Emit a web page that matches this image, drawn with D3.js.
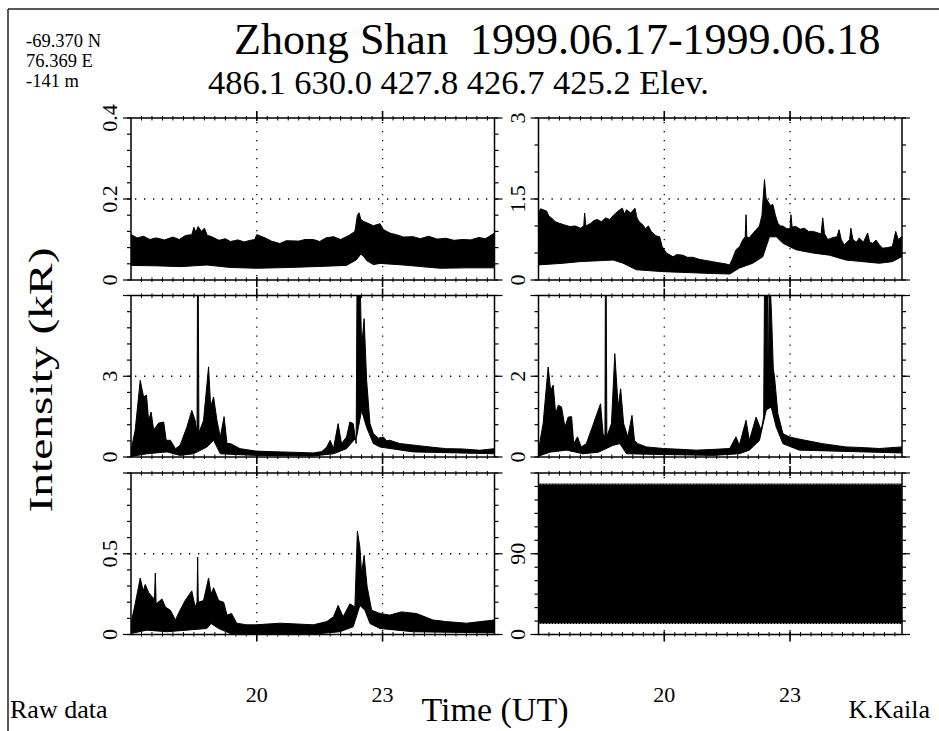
<!DOCTYPE html>
<html><head><meta charset="utf-8">
<script src="https://cdn.jsdelivr.net/npm/d3@7"></script>
<style>
html,body{margin:0;padding:0;background:#fff;}
text{font-family:"Liberation Serif","Times New Roman",Times,serif;}
</style></head><body>
<svg id="c" width="939" height="731"></svg>
<script>
// ---------------- data ----------------
const timeDomain = [17, 25.67];
const timeMajor = [20, 23];
const timeLabels = ["20", "23"];
const stationInfo = ["-69.370 N", "76.369 E", "-141 m"];
const titleParts = ["Zhong Shan", "1999.06.17-1999.06.18"];
const subtitleText = "486.1 630.0 427.8 426.7 425.2 Elev.";

const panelMax = [0.4, 3, 6, 4, 1, 180];
const panelMid = [0.2, 1.5, 3, 2, 0.5, 90];
const panelMinorStep = [0.04, 0.5, 0.6, 0.4, 0.1, 15];
const panelLabels = [["0","0.2","0.4"],["0","1.5","3"],["0","3"],["0","2"],["0","0.5"],["0","90"]];
const panelLabelValues = [[0,0.2,0.4],[0,1.5,3],[0,3],[0,2],[0,0.5],[0,90]];

// 486.1 nm (upper / lower envelope of the raw samples)
const hi4861 = [[17.0,0.112],[17.15,0.104],[17.3,0.108],[17.45,0.1],[17.6,0.104],[17.8,0.099],[18.0,0.106],[18.15,0.1],[18.3,0.11],[18.45,0.112],[18.5,0.13],[18.55,0.118],[18.6,0.132],[18.68,0.12],[18.75,0.128],[18.82,0.11],[18.9,0.108],[19.1,0.098],[19.25,0.102],[19.37,0.095],[19.55,0.099],[19.7,0.094],[19.85,0.098],[19.95,0.1],[20.0,0.112],[20.1,0.108],[20.2,0.104],[20.35,0.096],[20.55,0.09],[20.7,0.097],[21.0,0.096],[21.15,0.1],[21.35,0.1],[21.5,0.095],[21.65,0.104],[21.83,0.107],[22.0,0.1],[22.2,0.11],[22.34,0.12],[22.4,0.16],[22.44,0.166],[22.48,0.15],[22.54,0.145],[22.65,0.14],[22.78,0.134],[22.94,0.139],[23.02,0.125],[23.1,0.12],[23.2,0.115],[23.33,0.112],[23.5,0.106],[23.73,0.107],[23.9,0.102],[24.1,0.108],[24.3,0.101],[24.52,0.103],[24.7,0.098],[24.92,0.1],[25.1,0.099],[25.3,0.105],[25.45,0.102],[25.55,0.108],[25.67,0.116]];
const lo4861 = [[17.0,0.036],[17.6,0.035],[18.17,0.033],[18.81,0.037],[19.37,0.031],[20.0,0.029],[20.8,0.031],[21.35,0.033],[22.14,0.036],[22.38,0.05],[22.48,0.064],[22.55,0.058],[22.62,0.048],[22.78,0.038],[22.94,0.041],[23.5,0.037],[24.37,0.029],[25.0,0.03],[25.67,0.03]];

// 630.0 nm
const hi6300 = [[17.0,1.24],[17.05,1.32],[17.11,1.3],[17.19,1.28],[17.25,1.18],[17.31,1.15],[17.4,1.08],[17.5,1.05],[17.62,1.02],[17.75,0.99],[17.88,1.0],[18.0,0.96],[18.08,1.0],[18.1,1.24],[18.13,1.0],[18.25,1.05],[18.32,1.1],[18.4,1.12],[18.5,1.08],[18.6,1.15],[18.7,1.12],[18.8,1.21],[18.94,1.3],[19.0,1.33],[19.05,1.22],[19.1,1.3],[19.2,1.24],[19.3,1.33],[19.35,1.15],[19.4,1.08],[19.49,1.02],[19.55,0.95],[19.62,1.0],[19.69,0.9],[19.8,0.82],[19.89,0.8],[19.95,0.62],[20.05,0.5],[20.21,0.43],[20.3,0.47],[20.44,0.46],[20.55,0.42],[20.68,0.42],[20.85,0.38],[21.0,0.36],[21.15,0.34],[21.29,0.32],[21.45,0.3],[21.56,0.28],[21.63,0.4],[21.71,0.56],[21.8,0.62],[21.87,0.74],[21.93,0.8],[21.95,1.21],[21.97,0.8],[22.02,0.78],[22.1,0.85],[22.19,0.93],[22.27,1.0],[22.33,1.2],[22.39,1.86],[22.43,1.5],[22.47,1.46],[22.53,1.38],[22.59,1.4],[22.65,1.2],[22.71,1.05],[22.77,1.0],[22.83,1.0],[22.92,0.95],[23.0,0.95],[23.02,1.21],[23.05,0.98],[23.14,0.99],[23.24,0.94],[23.34,0.96],[23.44,0.9],[23.54,0.9],[23.64,0.88],[23.74,0.85],[23.78,1.15],[23.82,0.86],[23.9,0.75],[24.0,0.78],[24.12,0.8],[24.17,0.93],[24.22,0.75],[24.29,0.65],[24.36,0.7],[24.42,0.75],[24.45,0.96],[24.5,0.75],[24.58,0.7],[24.65,0.78],[24.75,0.7],[24.85,0.87],[24.9,0.7],[24.97,0.68],[25.05,0.74],[25.13,0.65],[25.21,0.59],[25.33,0.6],[25.44,0.62],[25.52,0.9],[25.58,0.75],[25.66,0.8]];
const lo6300 = [[17.0,0.28],[17.59,0.31],[17.98,0.34],[18.78,0.37],[19.02,0.31],[19.33,0.19],[19.97,0.155],[21.16,0.12],[21.56,0.11],[21.79,0.22],[22.11,0.31],[22.35,0.43],[22.51,0.8],[22.67,0.8],[22.83,0.68],[23.14,0.56],[23.54,0.5],[23.94,0.46],[24.33,0.37],[25.13,0.31],[25.44,0.34],[25.66,0.43]];

// 427.8 nm
const hi4278 = [[17.0,0.25],[17.1,1.0],[17.22,2.85],[17.3,2.23],[17.37,2.3],[17.42,1.36],[17.48,1.67],[17.54,1.0],[17.66,1.26],[17.78,1.3],[17.84,0.62],[17.94,0.62],[18.06,0.31],[18.17,0.43],[18.33,1.1],[18.45,1.73],[18.53,1.36],[18.575,0.9],[18.585,6.2],[18.605,6.2],[18.62,0.9],[18.73,1.36],[18.85,3.35],[18.9,1.86],[18.97,2.23],[19.05,1.36],[19.13,0.74],[19.22,1.5],[19.29,0.5],[19.37,0.5],[19.6,0.31],[19.98,0.22],[20.3,0.2],[20.56,0.19],[21.0,0.17],[21.35,0.15],[21.55,0.2],[21.67,0.37],[21.75,0.62],[21.83,0.31],[21.94,1.24],[22.02,0.5],[22.14,0.74],[22.22,1.3],[22.3,1.24],[22.37,0.5],[22.39,6.2],[22.47,6.2],[22.5,4.09],[22.56,5.14],[22.62,2.85],[22.7,1.24],[22.78,0.87],[22.9,0.7],[23.02,0.74],[23.1,0.6],[23.17,0.62],[23.41,0.5],[23.81,0.43],[24.2,0.36],[24.52,0.31],[24.9,0.3],[25.32,0.25],[25.67,0.31]];
const lo4278 = [[17.0,0.02],[17.38,0.12],[17.86,0.19],[18.17,0.06],[18.49,0.12],[18.81,0.37],[18.97,0.62],[19.13,0.12],[19.37,0.1],[19.98,0.06],[21.35,0.04],[21.83,0.12],[22.14,0.31],[22.38,0.74],[22.5,1.73],[22.62,1.1],[22.78,0.5],[22.94,0.37],[23.73,0.19],[25.67,0.12]];

// 426.7 nm
const hi4267 = [[17.0,0.17],[17.11,0.83],[17.23,2.23],[17.29,1.65],[17.35,1.78],[17.41,1.07],[17.47,1.28],[17.55,1.24],[17.63,0.74],[17.71,0.99],[17.79,1.0],[17.84,0.33],[17.93,0.5],[18.02,0.25],[18.14,0.33],[18.3,0.79],[18.38,1.03],[18.48,1.32],[18.54,0.58],[18.585,0.5],[18.595,4.2],[18.615,4.2],[18.63,0.5],[18.74,0.83],[18.82,2.56],[18.9,1.24],[18.96,1.69],[19.03,0.83],[19.13,0.5],[19.23,1.03],[19.29,0.41],[19.37,0.33],[19.57,0.25],[19.98,0.21],[20.4,0.19],[20.76,0.17],[21.2,0.19],[21.56,0.21],[21.71,0.5],[21.79,0.29],[21.95,0.91],[22.03,0.41],[22.19,0.99],[22.31,0.66],[22.37,0.99],[22.39,4.2],[22.46,4.2],[22.48,1.5],[22.5,4.2],[22.53,4.2],[22.56,3.47],[22.6,2.2],[22.63,1.98],[22.71,1.07],[22.83,0.58],[22.98,0.5],[23.14,0.46],[23.38,0.41],[23.78,0.33],[24.33,0.25],[24.8,0.23],[25.13,0.21],[25.67,0.25]];
const lo4267 = [[17.0,0.02],[17.27,0.12],[17.67,0.17],[18.06,0.08],[18.43,0.12],[18.78,0.29],[18.94,0.33],[19.1,0.08],[19.57,0.07],[21.16,0.04],[21.79,0.08],[22.03,0.17],[22.27,0.41],[22.43,1.16],[22.55,1.24],[22.67,0.74],[22.83,0.33],[23.22,0.17],[25.67,0.1]];

// 425.2 nm
const hi4252 = [[17.0,0.07],[17.1,0.19],[17.22,0.35],[17.29,0.27],[17.34,0.31],[17.42,0.26],[17.48,0.24],[17.56,0.22],[17.58,0.38],[17.6,0.19],[17.74,0.22],[17.82,0.17],[17.94,0.15],[18.06,0.09],[18.13,0.13],[18.29,0.21],[18.45,0.27],[18.53,0.17],[18.575,0.2],[18.59,0.48],[18.605,0.2],[18.73,0.21],[18.85,0.35],[18.91,0.25],[18.97,0.29],[19.09,0.21],[19.21,0.2],[19.29,0.12],[19.4,0.13],[19.52,0.07],[19.76,0.06],[19.98,0.06],[20.56,0.07],[21.35,0.06],[21.67,0.08],[21.83,0.11],[21.94,0.18],[22.06,0.11],[22.22,0.19],[22.34,0.17],[22.4,0.64],[22.46,0.54],[22.5,0.38],[22.56,0.49],[22.63,0.3],[22.74,0.15],[22.94,0.13],[23.17,0.12],[23.45,0.14],[23.81,0.13],[24.2,0.09],[24.52,0.08],[25.0,0.07],[25.67,0.09]];
const lo4252 = [[17.0,0.006],[17.38,0.027],[17.86,0.017],[18.33,0.027],[18.81,0.037],[18.91,0.068],[19.09,0.037],[19.37,0.006],[19.98,0.002],[21.35,0.002],[21.98,0.017],[22.3,0.048],[22.46,0.18],[22.58,0.15],[22.7,0.068],[22.94,0.037],[23.73,0.017],[25.67,0.01]];

// Elevation scan (deg)
const elevHi = [[17.0,167.7],[25.67,167.7]];
const elevLo = [[17.0,12.3],[25.67,12.3]];

const seriesHi = [hi4861, hi6300, hi4278, hi4267, hi4252, elevHi];
const seriesLo = [lo4861, lo6300, lo4278, lo4267, lo4252, elevLo];

// ---------------- layout ----------------
const colX = [[131, 494.5], [538.5, 902]];
const rowY = [[118, 280], [295.5, 457], [473, 634.5]];
const FONT = '"Liberation Serif","Times New Roman",Times,serif';

const svg = d3.select("#c");
function txt(sel) { return sel.append("text").style("font-family", FONT).attr("fill", "#000"); }

// outer frame (top & left lines)
svg.append("line").attr("x1",8).attr("y1",9).attr("x2",939).attr("y2",9).attr("stroke","#222").attr("stroke-width",1.5);
svg.append("line").attr("x1",8).attr("y1",9).attr("x2",8).attr("y2",731).attr("stroke","#222").attr("stroke-width",1.5);

// header texts
const title = txt(svg).attr("x",234).attr("y",54).attr("font-size",44);
title.append("tspan").text(titleParts[0]);
title.append("tspan").attr("dx", 22).text(titleParts[1]);
txt(svg).attr("x",208).attr("y",94).attr("font-size",34.5).text(subtitleText);
stationInfo.forEach((s,i)=>{
  txt(svg).attr("x",26).attr("y",47+i*20).attr("font-size",18.5).text(s);
});

const lineGen = d3.line();

for (let i = 0; i < 6; i++) {
  const col = i % 2, row = Math.floor(i / 2);
  const [x0, x1] = colX[col], [y0, y1] = rowY[row];
  const x = d3.scaleLinear().domain(timeDomain).range([x0, x1]);
  const y = d3.scaleLinear().domain([0, panelMax[i]]).range([y1, y0]);
  const g = svg.append("g");

  const clipId = "clip" + i;
  svg.append("clipPath").attr("id", clipId).append("rect")
    .attr("x", x0).attr("y", y0).attr("width", x1 - x0).attr("height", y1 - y0);

  // dotted grid
  const grid = g.append("g").attr("stroke","#000").attr("stroke-width",1.3).attr("stroke-dasharray","1.3,7.7");
  timeMajor.forEach(t => grid.append("line").attr("x1",x(t)).attr("x2",x(t)).attr("y1",y0+4).attr("y2",y1));
  grid.append("line").attr("x1",x0+4).attr("x2",x1).attr("y1",y(panelMid[i])).attr("y2",y(panelMid[i]));

  // data band
  const hi = seriesHi[i], lo = seriesLo[i];
  const pts = hi.map(d => [x(d[0]), y(d[1])]).concat(lo.slice().reverse().map(d => [x(d[0]), y(d[1])]));
  g.append("path").attr("clip-path", `url(#${clipId})`)
    .attr("d", lineGen(pts) + "Z")
    .attr("fill", "#000").attr("stroke", "#000").attr("stroke-width", 1).attr("stroke-linejoin","round");
  if (i === 5) {
    const edge = g.append("g").attr("stroke","#fff").attr("stroke-width",1).attr("stroke-dasharray","1,2");
    [hi, lo].forEach(s => edge.append("path").attr("fill","none").attr("d", lineGen(s.map(d=>[x(d[0]), y(d[1])]))));
  }

  // frame
  g.append("rect").attr("x",x0).attr("y",y0).attr("width",x1-x0).attr("height",y1-y0)
    .attr("fill","none").attr("stroke","#000").attr("stroke-width",1.5);

  // y ticks (left & right), minor and major
  const nMinor = Math.round(panelMax[i] / panelMinorStep[i]);
  const minorVals = d3.range(0, nMinor + 1).map(k => k * panelMinorStep[i]);
  const majorVals = [0, panelMid[i], panelMax[i]];
  const ticks = g.append("g").attr("stroke","#000").attr("stroke-width",1.2);
  minorVals.forEach(v => {
    ticks.append("line").attr("x1",x0-4).attr("x2",x0).attr("y1",y(v)).attr("y2",y(v));
    ticks.append("line").attr("x1",x1).attr("x2",x1+4).attr("y1",y(v)).attr("y2",y(v));
  });
  majorVals.forEach(v => {
    ticks.append("line").attr("x1",x0-8).attr("x2",x0).attr("y1",y(v)).attr("y2",y(v));
    ticks.append("line").attr("x1",x1).attr("x2",x1+8).attr("y1",y(v)).attr("y2",y(v));
  });
  // x ticks
  const tMinor = d3.range(69, 103).map(k => k / 4);
  tMinor.forEach(t => {
    ticks.append("line").attr("x1",x(t)).attr("x2",x(t)).attr("y1",y0-2).attr("y2",y0+2.5).attr("stroke-width",1);
    ticks.append("line").attr("x1",x(t)).attr("x2",x(t)).attr("y1",y1-2.5).attr("y2",y1+2).attr("stroke-width",1);
  });
  timeMajor.forEach(t => {
    ticks.append("line").attr("x1",x(t)).attr("x2",x(t)).attr("y1",y0-7).attr("y2",y0+3).attr("stroke-width",1.6);
    ticks.append("line").attr("x1",x(t)).attr("x2",x(t)).attr("y1",y1-3).attr("y2",y1+7).attr("stroke-width",1.6);
  });

  // y labels (rotated)
  panelLabels[i].forEach((lab, k) => {
    const v = panelLabelValues[i][k];
    const lx = x0 - 14, ly = y(v);
    txt(g).attr("x", lx).attr("y", ly).attr("font-size", 22)
      .attr("text-anchor","middle").attr("transform", `rotate(-90,${lx},${ly})`).text(lab);
  });

  // x labels for bottom row
  if (row === 2) {
    timeMajor.forEach((t, k) => {
      txt(g).attr("x", x(t)).attr("y", 702).attr("font-size", 22)
        .attr("text-anchor","middle").text(timeLabels[k]);
    });
  }
}

// axis titles and footers
txt(svg).attr("x",52).attr("y",380).attr("font-size",34).attr("text-anchor","middle")
  .attr("textLength",265).attr("lengthAdjust","spacingAndGlyphs")
  .attr("transform","rotate(-90,52,380)").text("Intensity (kR)");
txt(svg).attr("x",495).attr("y",721).attr("font-size",34).attr("text-anchor","middle").text("Time (UT)");
txt(svg).attr("x",10).attr("y",718).attr("font-size",26).text("Raw data");
txt(svg).attr("x",930).attr("y",718).attr("font-size",26).attr("text-anchor","end").text("K.Kaila");
</script>
</body></html>
